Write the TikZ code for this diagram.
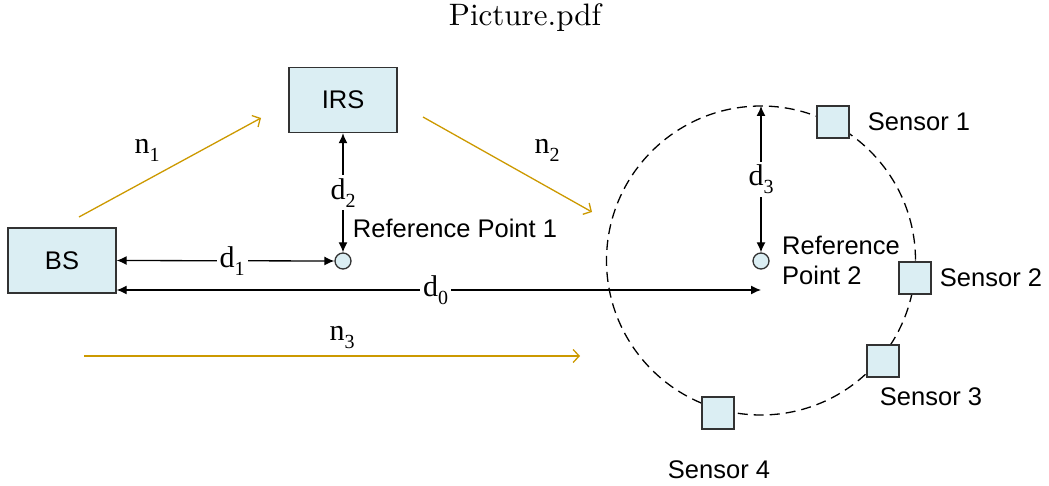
\documentclass[tikz,border=0pt]{standalone}
\usepackage{fontspec}
\newfontfamily\sansfont{Liberation Sans}
\newfontfamily\seriffont{Liberation Serif}
\newfontfamily\titlefont{lmroman10-regular}[Extension=.otf]
\usetikzlibrary{arrows.meta}
\definecolor{boxfill}{RGB}{219,238,243}
\definecolor{boxline}{RGB}{50,50,50}
\definecolor{gold}{RGB}{204,153,0}
\newcommand{\lab}[2]{{\seriffont\fontsize{30}{30}\selectfont #1\raisebox{-8pt}{\fontsize{20}{20}\selectfont #2}}}
\tikzset{
  unitbox/.style={draw=boxline, fill=boxfill, line width=1.3pt, inner sep=0pt},
  sensorbox/.style={unitbox, minimum width=32pt, minimum height=32pt},
  refpt/.style={circle, unitbox, minimum size=16pt},
  sanslabel/.style={font=\sansfont\fontsize{25.5}{30}\selectfont, inner sep=0pt},
  dimarrow/.style={line width=1.3pt, {Latex[length=10pt,width=9pt]}-{Latex[length=10pt,width=9pt]}},
  chanarrow/.style={gold, line width=1.3pt, -{Straight Barb[length=6pt,width=13pt]}},
  gaplabel/.style={fill=white, inner sep=3pt},
}
\begin{document}
\begin{tikzpicture}[x=1pt, y=-1pt]
\useasboundingbox (0,0) rectangle (1049,486);

% title
\node[font=\titlefont\fontsize{31}{31}\selectfont] (title) at (525,18) {Picture.pdf};

% base station and IRS
\node[unitbox, minimum width=108pt, minimum height=65pt] (bs) at (62,260.5)
  {\sansfont\fontsize{25.5}{30}\selectfont BS};
\node[unitbox, minimum width=108pt, minimum height=65pt] (irs) at (343,100)
  {\sansfont\fontsize{25.5}{30}\selectfont IRS};

% reference points
\node[refpt] (rp1) at (343,261) {};
\node[refpt] (rp2) at (761,261) {};
\node[sanslabel] (rp1lbl) at (455,228) {Reference Point 1};
\node[sanslabel, anchor=west, align=left] (rp2lbl) at (782,260) {Reference\\Point 2};

% sensor ring
\draw[line width=1.3pt, dash pattern=on 10pt off 6pt] (761,260.5) circle (154.5);
\coordinate (ringtop) at (761,106);

\node[sensorbox] (s1) at (833,122) {};
\node[sensorbox] (s2) at (915,278) {};
\node[sensorbox] (s3) at (883,361) {};
\node[sensorbox] (s4) at (718,413) {};
\node[sanslabel] (s1lbl) at (919,122) {Sensor 1};
\node[sanslabel] (s2lbl) at (991,278) {Sensor 2};
\node[sanslabel] (s3lbl) at (931,397) {Sensor 3};
\node[sanslabel] (s4lbl) at (719,470) {Sensor 4};

% distances
\draw[dimarrow] (bs.east) -- node[gaplabel, pos=0.53] {\lab{d}{1}} (rp1.west);
\draw[dimarrow] (irs.south) -- node[gaplabel] {\lab{d}{2}} (rp1.north);
\coordinate (d0end) at (761,290);
\draw[dimarrow] (bs.east |- d0end) -- node[gaplabel, pos=0.495] {\lab{d}{0}} (d0end);
\draw[dimarrow] (ringtop) -- node[gaplabel] {\lab{d}{3}} (rp2.north);

% channels
\coordinate (n1a) at (79,217);  \coordinate (n1b) at (261,118);
\coordinate (n2a) at (423,117); \coordinate (n2b) at (592,212);
\coordinate (n3a) at (84,356);  \coordinate (n3b) at (580,356);
\draw[chanarrow] (n1a) -- (n1b);
\draw[chanarrow] (n2a) -- (n2b);
\draw[chanarrow] (n3a) -- (n3b);
\node (n1lbl) at (147,150) {\lab{n}{1}};
\node (n2lbl) at (547,150) {\lab{n}{2}};
\node (n3lbl) at (342,338) {\lab{n}{3}};
\end{tikzpicture}
\end{document}
